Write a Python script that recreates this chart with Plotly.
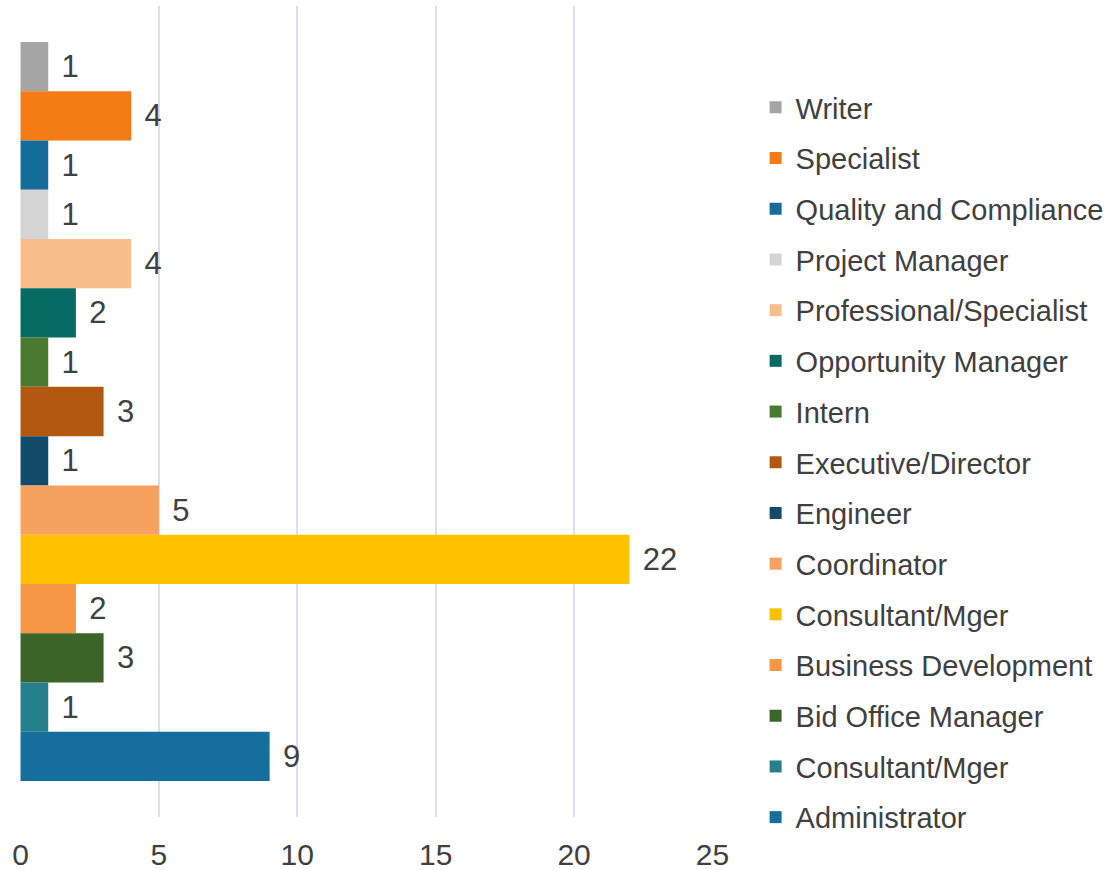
import plotly.graph_objects as go

roles = ["Writer", "Specialist", "Quality and Compliance", "Project Manager",
         "Professional/Specialist", "Opportunity Manager", "Intern",
         "Executive/Director", "Engineer", "Coordinator", "Consultant/Mger",
         "Business Development", "Bid Office Manager", "Consultant/Mger",
         "Administrator"]
counts = [1, 4, 1, 1, 4, 2, 1, 3, 1, 5, 22, 2, 3, 1, 9]
colors = ["#a5a5a5", "#f47b16", "#166d9b", "#d4d4d4", "#f9bd8c", "#086b63",
          "#4a7a2f", "#b35810", "#134b6b", "#f6a15f", "#ffc000", "#f79646",
          "#3b6428", "#267f8c", "#166e9c"]
x_ticks = [0, 5, 10, 15, 20, 25]

FONT = "Liberation Sans, Arial, sans-serif"
TXT = "#404040"

fig = go.Figure()
for i, (name, val, col) in enumerate(zip(roles, counts, colors)):
    fig.add_trace(go.Bar(
        x=[val], y=["All"], orientation="h", name=name,
        marker=dict(color=col, line=dict(width=0)),
        text=[val], texttemplate="\u2004%{x}", textposition="outside",
        constraintext="none", cliponaxis=False,
        textfont=dict(family=FONT, size=31, color=TXT),
        legendgroup="g%d" % i, hoverinfo="x+name",
    ))

fig.update_layout(
    width=1112, height=870,
    paper_bgcolor="white", plot_bgcolor="white",
    margin=dict(l=20, r=399, t=6, b=53, autoexpand=False),
    barmode="group", bargap=0.089, bargroupgap=0,
    font=dict(family=FONT, color=TXT),
    xaxis=dict(range=[-0.02, 25.02], tickvals=x_ticks, showgrid=True,
               gridcolor="#dcdcf2", gridwidth=1.5, zeroline=False,
               showline=False, ticks="", ticklabelstandoff=17,
               automargin=False,
               tickfont=dict(family=FONT, size=30, color=TXT)),
    yaxis=dict(showticklabels=False, showgrid=False, zeroline=False,
               autorange="reversed", automargin=False),
    showlegend=True,
    legend=dict(xref="container", yref="container", x=0.6795, xanchor="left",
                y=1 - 82 / 870, yanchor="top", traceorder="grouped",
                tracegroupgap=10, maxheight=840,
                font=dict(family=FONT, size=29, color=TXT),
                bgcolor="rgba(0,0,0,0)"),
)

fig.write_html("out.html",
               config={"displayModeBar": False},
               post_script="document.body.style.margin='0';"
                           "document.body.style.overflow='hidden';")
